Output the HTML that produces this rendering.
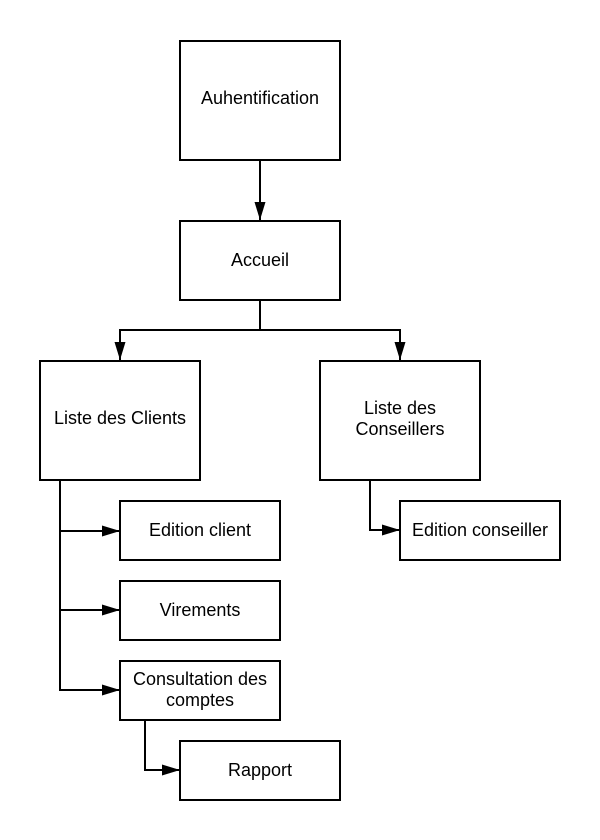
<!DOCTYPE html>
<html><head><meta charset="utf-8"><style>body{margin:0;background:#fff}</style></head><body>
<svg width="600" height="840" xmlns="http://www.w3.org/2000/svg" style="display:block">
<defs><marker id="a" markerWidth="18" markerHeight="14" refX="18" refY="7" orient="auto" markerUnits="userSpaceOnUse"><path d="M0,1.5 L18,7 L0,12.5 Z" fill="#000"/></marker></defs>
<g fill="#fff" stroke="#000" stroke-width="2">
<rect x="180" y="41" width="160" height="119"/>
<rect x="180" y="221" width="160" height="79"/>
<rect x="40" y="361" width="160" height="119"/>
<rect x="320" y="361" width="160" height="119"/>
<rect x="120" y="501" width="160" height="59"/>
<rect x="120" y="581" width="160" height="59"/>
<rect x="120" y="661" width="160" height="59"/>
<rect x="180" y="741" width="160" height="59"/>
<rect x="400" y="501" width="160" height="59"/>
</g>
<g fill="none" stroke="#000" stroke-width="2">
<path d="M260,160 V220" marker-end="url(#a)"/>
<path d="M260,300 V330 H120 V360" marker-end="url(#a)"/>
<path d="M260,330 H400 V360" marker-end="url(#a)"/>
<path d="M60,480 V531 H120" marker-end="url(#a)"/>
<path d="M60,531 V610 H120" marker-end="url(#a)"/>
<path d="M60,610 V690 H120" marker-end="url(#a)"/>
<path d="M370,480 V530 H400" marker-end="url(#a)"/>
<path d="M145,720 V770 H180" marker-end="url(#a)"/>
</g>
<g font-family="Liberation Sans, sans-serif" font-size="18" text-anchor="middle" fill="#000">
<text x="260" y="104">Auhentification</text>
<text x="260" y="266">Accueil</text>
<text x="120" y="424">Liste des Clients</text>
<text x="400" y="414">Liste des</text>
<text x="400" y="435">Conseillers</text>
<text x="200" y="536">Edition client</text>
<text x="200" y="616">Virements</text>
<text x="200" y="685">Consultation des</text>
<text x="200" y="706">comptes</text>
<text x="260" y="776">Rapport</text>
<text x="480" y="536">Edition conseiller</text>
</g>
</svg>
</body></html>
